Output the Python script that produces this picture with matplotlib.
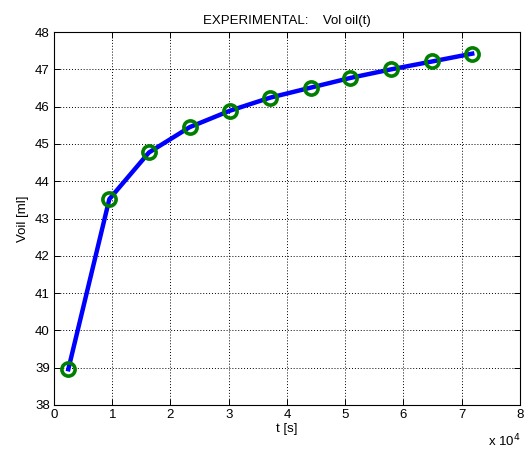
import numpy as np
import matplotlib
matplotlib.use('Agg')
import matplotlib.pyplot as plt

plt.rcParams['font.family'] = ['Liberation Sans', 'DejaVu Sans']

# time [x 10^4 s] and oil volume [ml]
t = [0.246, 0.95, 1.63, 2.33, 3.02, 3.71, 4.41, 5.09, 5.79, 6.49, 7.18]
voil = [38.96, 43.52, 44.77, 45.45, 45.89, 46.24, 46.51, 46.77, 47.0, 47.21, 47.42]

FS = 9.5

fig = plt.figure(figsize=(5.31, 4.51), dpi=100)
ax = fig.add_axes([0.1017, 0.102, 0.8775, 0.827])

ax.plot(t, voil, '-', color='#0000ff', lw=3.2, zorder=3)
ax.plot(t, voil, 'o', mfc='none', mec='#007f00', mew=2.6, ms=9.5, zorder=4)

ax.set_xlim(0, 8)
ax.set_ylim(38, 48)
ax.set_xticks(range(0, 9))
ax.set_yticks(range(38, 49))
ax.grid(True, color='black', linestyle=(0, (1, 2)), lw=0.7)
ax.tick_params(direction='in', top=True, right=True, labelsize=FS, length=4, width=0.7, pad=3)
for s in ax.spines.values():
    s.set_linewidth(0.8)

ax.set_title('EXPERIMENTAL:    Vol oil(t)', fontsize=FS, pad=6)
ax.set_xlabel('t [s]', fontsize=FS, labelpad=1)
ax.set_ylabel('Voil [ml]', fontsize=FS, labelpad=4)
fig.text(0.98, 0.003, r'x 10$^4$', fontsize=FS, ha='right', va='bottom')

fig.savefig('out.png', dpi=100)
